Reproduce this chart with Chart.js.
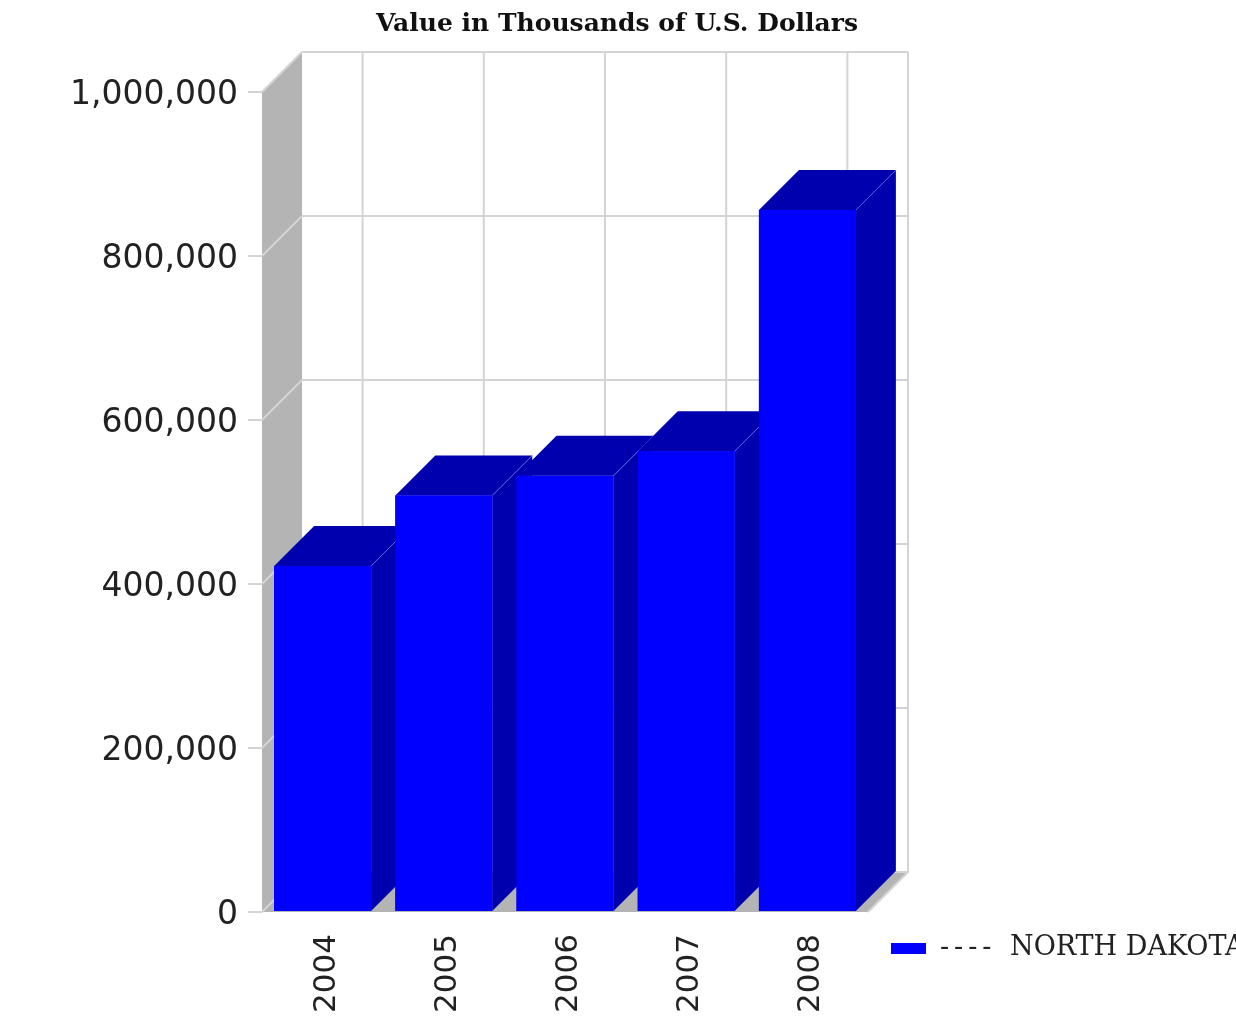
<!DOCTYPE html>
<html>
<head>
<meta charset="utf-8">
<script src="https://cdn.jsdelivr.net/npm/chart.js@4"></script>
<style>
  html, body { margin: 0; padding: 0; background: #fff; }
  #wrap { width: 1236px; height: 1020px; }
</style>
</head>
<body>
<div id="wrap"><canvas id="myChart" width="1236" height="1020"></canvas></div>
<script>
// data
const years = ['2004', '2005', '2006', '2007', '2008'];
const values = [422000, 508000, 532000, 562000, 856000];
const yMax = 1000000;
const yStep = 200000;
const seriesName = 'NORTH DAKOTA';
const chartTitle = 'Value in Thousands of U.S. Dollars';

const DEPTH = 40;
const frontBlue = '#0000FF';
const darkBlue = '#0000AE';
const wallGray = '#b4b4b4';
const gridGray = '#d4d4d4';

const threeD = {
    id: 'threeD',
    beforeDatasetsDraw(chart) {
        const { ctx, chartArea: a, scales } = chart;
        const y = scales.y, x = scales.x;
        ctx.save();
        // floor
        ctx.fillStyle = wallGray;
        ctx.beginPath();
        ctx.moveTo(a.left, a.bottom);
        ctx.lineTo(a.right, a.bottom);
        ctx.lineTo(a.right + DEPTH, a.bottom - DEPTH);
        ctx.lineTo(a.left + DEPTH, a.bottom - DEPTH);
        ctx.closePath();
        ctx.fill();
        // left wall
        ctx.beginPath();
        ctx.moveTo(a.left, a.bottom);
        ctx.lineTo(a.left, a.top);
        ctx.lineTo(a.left + DEPTH, a.top - DEPTH);
        ctx.lineTo(a.left + DEPTH, a.bottom - DEPTH);
        ctx.closePath();
        ctx.fill();

        ctx.strokeStyle = gridGray;
        ctx.lineWidth = 2;
        // horizontal grid on back wall + diagonal on side wall
        y.ticks.forEach(t => {
            const py = y.getPixelForValue(t.value);
            ctx.beginPath();
            ctx.moveTo(a.left + DEPTH, py - DEPTH);
            ctx.lineTo(a.right + DEPTH, py - DEPTH);
            ctx.stroke();
            ctx.beginPath();
            ctx.moveTo(a.left, py);
            ctx.lineTo(a.left + DEPTH, py - DEPTH);
            ctx.stroke();
        });
        // vertical grid at category centres on back wall
        years.forEach((_, i) => {
            const px = x.getPixelForTick(i) + DEPTH;
            ctx.beginPath();
            ctx.moveTo(px, a.top - DEPTH);
            ctx.lineTo(px, a.bottom - DEPTH);
            ctx.stroke();
        });
        // back wall right edge
        ctx.beginPath();
        ctx.moveTo(a.right + DEPTH, a.top - DEPTH);
        ctx.lineTo(a.right + DEPTH, a.bottom - DEPTH);
        ctx.lineTo(a.right, a.bottom);
        ctx.stroke();
        ctx.restore();
    },
    afterDatasetsDraw(chart) {
        const { ctx } = chart;
        const meta = chart.getDatasetMeta(0);
        ctx.save();
        meta.data.forEach(bar => {
            const l = bar.x - bar.width / 2, r = bar.x + bar.width / 2;
            const top = bar.y, base = bar.base;
            ctx.fillStyle = darkBlue;
            // side
            ctx.beginPath();
            ctx.moveTo(r, top);
            ctx.lineTo(r + DEPTH, top - DEPTH);
            ctx.lineTo(r + DEPTH, base - DEPTH);
            ctx.lineTo(r, base);
            ctx.closePath();
            ctx.fill();
            // top
            ctx.beginPath();
            ctx.moveTo(l, top);
            ctx.lineTo(l + DEPTH, top - DEPTH);
            ctx.lineTo(r + DEPTH, top - DEPTH);
            ctx.lineTo(r, top);
            ctx.closePath();
            ctx.fill();
            // faint edge line
            ctx.strokeStyle = 'rgba(120,120,255,0.6)';
            ctx.lineWidth = 1;
            ctx.beginPath();
            ctx.moveTo(r, top);
            ctx.lineTo(r + DEPTH, top - DEPTH);
            ctx.stroke();
            // front face again so it covers the previous bar's side
            ctx.fillStyle = frontBlue;
            ctx.fillRect(l, top, r - l, base - top);
        });
        ctx.restore();
    },
    afterDraw(chart) {
        const { ctx } = chart;
        ctx.save();
        ctx.fillStyle = '#111';
        ctx.font = 'bold 25px "DejaVu Serif", serif';
        ctx.textAlign = 'center';
        ctx.textBaseline = 'middle';
        ctx.fillText(chartTitle, 617, 24);
        // legend
        ctx.fillStyle = frontBlue;
        ctx.fillRect(891, 943, 35, 11);
        ctx.fillStyle = '#222';
        ctx.font = '27px "DejaVu Serif", serif';
        ctx.textAlign = 'left';
        ctx.textBaseline = 'alphabetic';
        ctx.letterSpacing = '5px';
        ctx.fillText('----', 940, 955);
        ctx.letterSpacing = '0px';
        ctx.fillText(chart.data.datasets[0].label, 1010, 955);
        ctx.restore();
    }
};

const ctx = document.getElementById('myChart').getContext('2d');
new Chart(ctx, {
    type: 'bar',
    data: {
        labels: years,
        datasets: [{
            label: seriesName,
            data: values,
            backgroundColor: frontBlue,
            borderWidth: 0,
            categoryPercentage: 0.8,
            barPercentage: 1.0
        }]
    },
    options: {
        responsive: false,
        animation: false,
        layout: { padding: { top: 92, right: 368, left: 0, bottom: 0 } },
        plugins: {
            legend: { display: false },
            title: { display: false },
            tooltip: { enabled: false }
        },
        scales: {
            x: {
                grid: { display: false },
                border: { display: false },
                ticks: {
                    color: '#222',
                    font: { family: 'DejaVu Sans', size: 31 },
                    minRotation: 90,
                    maxRotation: 90,
                    padding: 14,
                    labelOffset: 4
                },
                afterFit(scale) { scale.height = 108; }
            },
            y: {
                min: 0,
                max: yMax,
                border: { display: false },
                grid: {
                    drawOnChartArea: false,
                    tickLength: 14,
                    color: gridGray,
                    lineWidth: 2
                },
                ticks: {
                    stepSize: yStep,
                    color: '#222',
                    padding: 10,
                    labelOffset: 3,
                    font: { family: 'DejaVu Sans', size: 33 },
                    callback: v => v.toLocaleString('en-US')
                },
                afterFit(scale) { scale.width = 262; }
            }
        }
    },
    plugins: [threeD]
});
</script>
</body>
</html>
